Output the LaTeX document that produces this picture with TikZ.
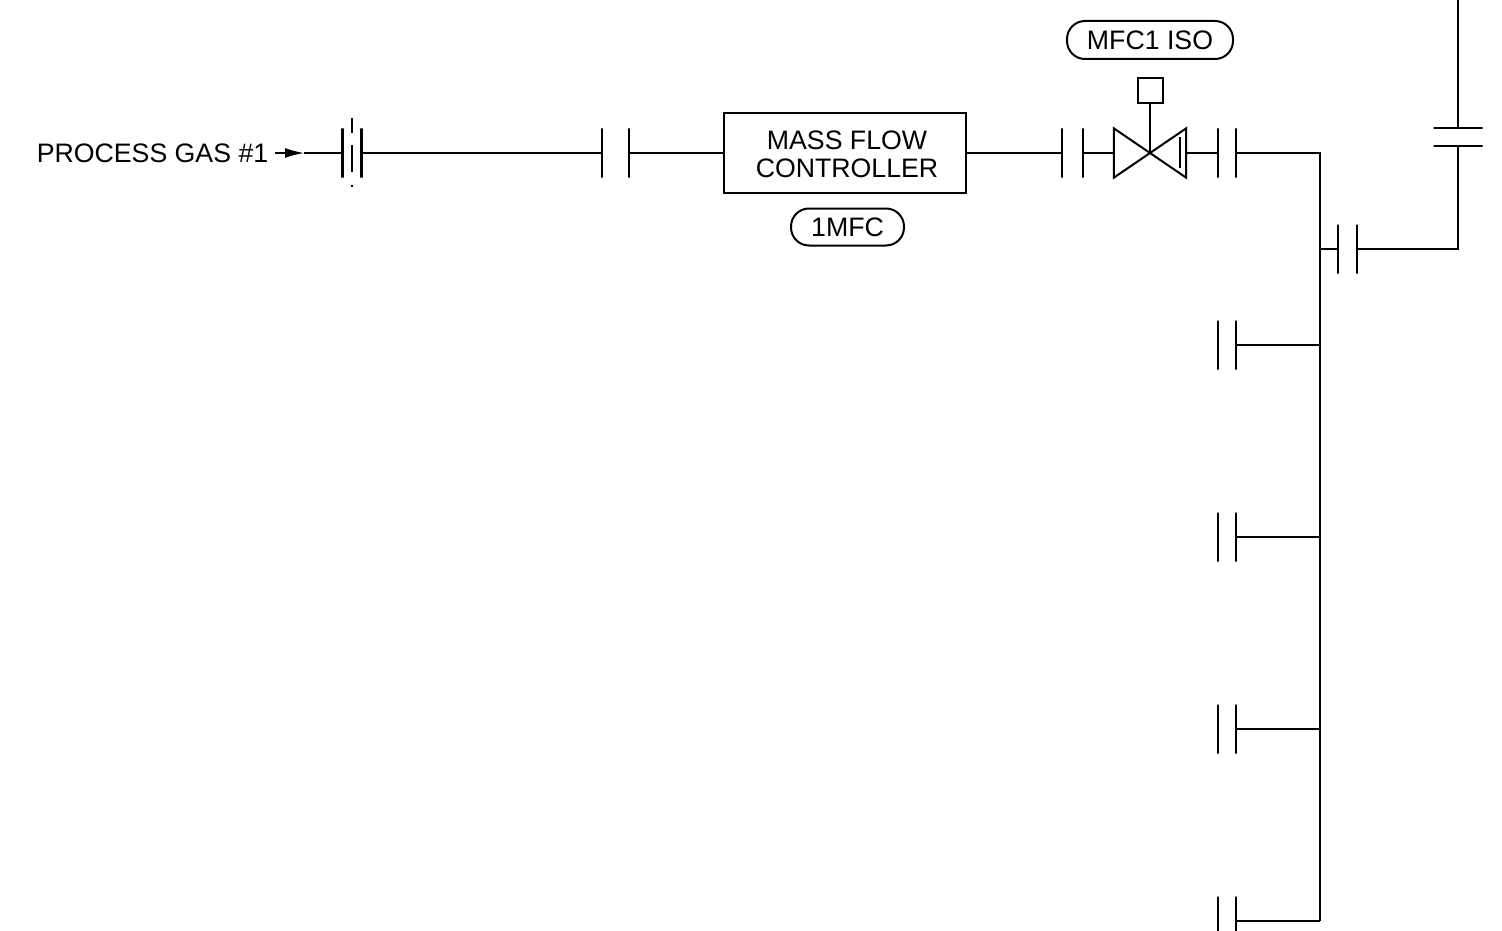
\documentclass[tikz,border=0pt]{standalone}
\usepackage{fontspec}
\setmainfont{Liberation Sans}
\usetikzlibrary{positioning,arrows.meta}
\tikzset{
	every node/.style = {font=\fontsize{26.7}{28}\selectfont, inner sep = 0},
	pipe/.style = {line width=2.4pt},
	thin pipe/.style = {line width=2pt},
	vbar/.style = {draw, rectangle, minimum width=0, minimum height=49, line width=2.4pt},
	hbar/.style = {draw, rectangle, minimum height=0, minimum width=49, line width=2.4pt},
	tagpill/.style = {draw, rectangle, rounded corners=18pt, line width=2pt, align=center}
}

\begin{document}
\begin{tikzpicture}[x=1pt, y=-1pt, every text node part/.style={align=center}]
		\clip (0,0) rectangle (1502,931);
		\useasboundingbox (0,0) rectangle (1502,931);
		
		\node[inner sep=7] (gas) at (152.5,153) {PROCESS GAS \#1};
		\coordinate (tip) at (304,153);
		
		\node[vbar] (f1a) at (342.5,153) {};
		\node[vbar] (f1b) at (361.5,153) {};
		\coordinate (f1top) at (352,118);
		\coordinate (f1end) at (352,188);
		
		\node[vbar] (f2a) at (602,153) {};
		\node[vbar] (f2b) at (629,153) {};
		\node[draw, pipe, rectangle, minimum width=242, minimum height=80] (mfc) at (845,153) {\hspace*{4pt}\rule{0pt}{22pt}MASS FLOW\\\hspace*{4pt}CONTROLLER};
		\node[tagpill, minimum width=113, minimum height=37] (mfctag) at (847.5,227) {1MFC};
		
		\node[vbar] (f3a) at (1062,153) {};
		\node[vbar] (f3b) at (1083,153) {};
		\node[minimum width=72, minimum height=49] (valve) at (1150,153) {};
		\node[draw, thin pipe, rectangle, minimum size=25] (act) at (1150,90.5) {};
		\node[tagpill, minimum width=166, minimum height=38] (isotag) at (1150,40) {MFC1 ISO};
		\node[vbar] (f4a) at (1218,153) {};
		\node[vbar] (f4b) at (1236,153) {};
		
		\coordinate (hdrtop) at (1320,153);
		\coordinate (hdrend) at (1320,921);
		\coordinate (tee) at (1320,249);
		\node[vbar] (f5a) at (1338,249) {};
		\node[vbar] (f5b) at (1357,249) {};
		\coordinate (elbow) at (1458,249);
		\node[hbar] (f6b) at (1458,146) {};
		\node[hbar] (f6a) at (1458,128) {};
		\coordinate (exit) at (1458,0);
		
		\foreach \name/\y in {p1/345, p2/537, p3/729, p4/921} {
			\node[vbar] (\name a) at (1218,\y) {};
			\node[vbar] (\name b) at (1236,\y) {};
			\draw[pipe] (\name b) -- (hdrtop |- \name b);
		}
		
		\draw[-{Latex[length=19pt,width=10pt]}, line width=1.6pt] (gas) -- (tip);
		\draw[pipe] (tip) -- (f1a);
		\draw[line width=2.2pt, dash pattern=on 15pt off 12pt on 27pt off 13pt on 2pt off 9pt] (f1top) -- (f1end);
		\draw[pipe] (f1b) -- (f2a);
		\draw[pipe] (f2b) -- (mfc);
		\draw[pipe] (mfc) -- (f3a);
		\draw[pipe] (f3b) -- (valve.west);
		\draw[thin pipe] (valve.north west) -- (valve.south east) -- (valve.north east) -- (valve.south west) -- cycle;
		\draw[thin pipe] ([xshift=-6]valve.east |- 0,137) -- ([xshift=-6]valve.east |- 0,168);
		\draw[thin pipe] (valve.center) -- (act);
		\draw[pipe] (valve.east) -- (f4a);
		\draw[pipe] (f4b) -- (hdrtop) -- (hdrend);
		\draw[pipe] (tee) -- (f5a);
		\draw[pipe] (f5b) -- (elbow) -- (f6b);
		\draw[pipe] (f6a) -- (exit);
		\end{tikzpicture}
\end{document}
